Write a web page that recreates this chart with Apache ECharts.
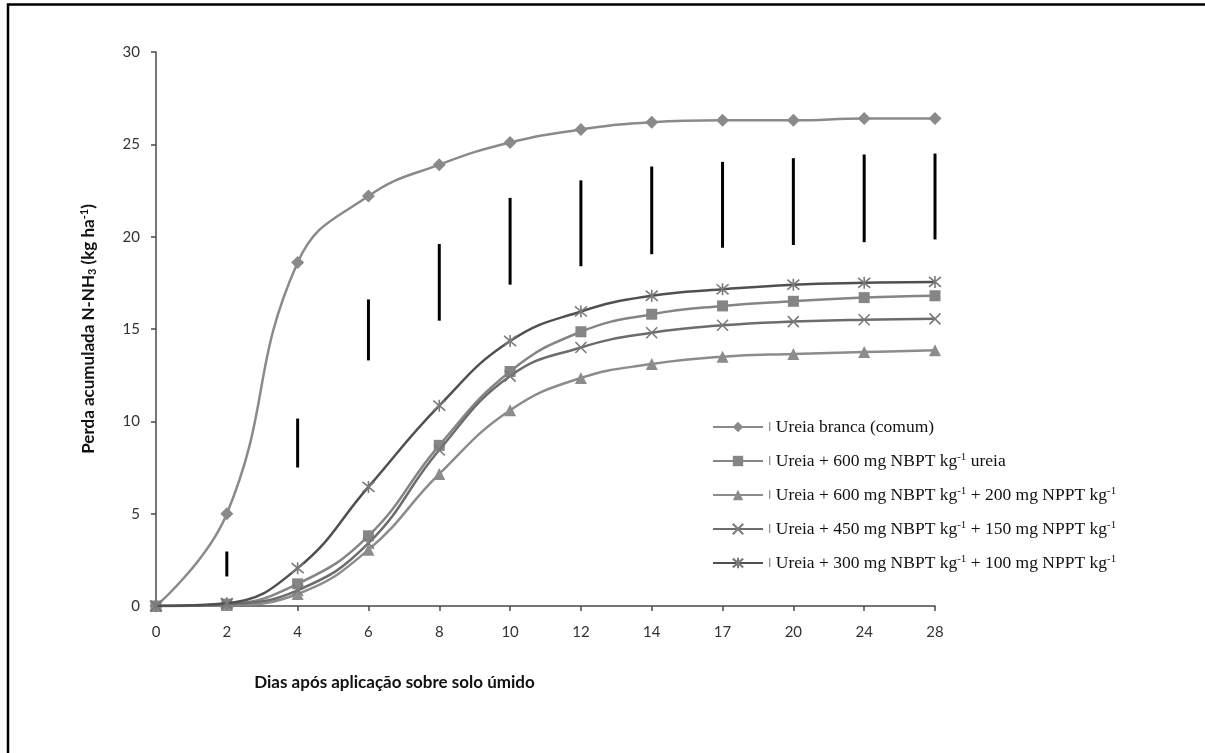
<!DOCTYPE html>
<html>
<head>
<meta charset="utf-8">
<script src="https://cdn.jsdelivr.net/npm/echarts@6/dist/echarts.min.js"></script>
<style>html,body{margin:0;padding:0;background:#fff}#c{width:1205px;height:753px}</style>
</head>
<body>
<div id="c"></div>
<script>
const days = ['0','2','4','6','8','10','12','14','17','20','24','28'];
const yTicks = [0,5,10,15,20,25,30];
const ureiaBranca = [0, 5.0, 18.6, 22.2, 23.9, 25.1, 25.8, 26.2, 26.3, 26.3, 26.4, 26.4];
const nbpt600 = [0, 0.1, 1.2, 3.8, 8.7, 12.7, 14.85, 15.8, 16.25, 16.5, 16.7, 16.8];
const nbpt600nppt200 = [0, 0.05, 0.65, 3.05, 7.15, 10.6, 12.35, 13.1, 13.5, 13.65, 13.75, 13.85];
const nbpt450nppt150 = [0, 0.1, 0.85, 3.4, 8.45, 12.45, 14.0, 14.8, 15.2, 15.4, 15.5, 15.55];
const nbpt300nppt100 = [0, 0.15, 2.05, 6.45, 10.85, 14.35, 15.95, 16.8, 17.15, 17.4, 17.5, 17.55];
// vertical bars (low, high) at each day except 0
const barLow  = [null, 1.6, 7.5, 13.3, 15.45, 17.4, 18.4, 19.05, 19.4, 19.55, 19.7, 19.85];
const barHigh = [null, 2.95, 10.15, 16.6, 19.6, 22.1, 23.05, 23.8, 24.05, 24.25, 24.45, 24.5];

const seriesNames = [
  'Ureia branca (comum)',
  'Ureia + 600 mg NBPT kg-1 ureia',
  'Ureia + 600 mg NBPT kg-1 + 200 mg NPPT kg-1',
  'Ureia + 450 mg NBPT kg-1 + 150 mg NPPT kg-1',
  'Ureia + 300 mg NBPT kg-1 + 100 mg NPPT kg-1'
];
const seriesData = [ureiaBranca, nbpt600, nbpt600nppt200, nbpt450nppt150, nbpt300nppt100];

const xPath = 'path://M0,0L10,10M10,0L0,10';
const starPath = 'path://M5,0L5,10M0.8,0.8L9.2,9.2M9.2,0.8L0.8,9.2';
const styles = [
  {symbol:'diamond', size:13, color:'#8a8a8a', line:'#8a8a8a', stroke:false},
  {symbol:'rect', size:11, color:'#858585', line:'#858585', stroke:false},
  {symbol:'triangle', size:12, color:'#8c8c8c', line:'#8c8c8c', stroke:false},
  {symbol:xPath, size:11, color:'#7a7a7a', line:'#6c6c6c', stroke:true},
  {symbol:starPath, size:12, color:'#7a7a7a', line:'#505050', stroke:true}
];

const chart = echarts.init(document.getElementById('c'), null, {renderer:'canvas'});

const lineSeries = seriesData.map((d, i) => {
  const s = styles[i];
  return {
    name: seriesNames[i],
    type: 'line',
    data: d,
    smooth: 0.45,
    symbol: s.symbol,
    symbolSize: s.size,
    lineStyle: {color: s.line, width: 2.5},
    itemStyle: s.stroke ? {color: 'rgba(0,0,0,0)', borderColor: s.color, borderWidth: 1.6}
                        : {color: s.color, borderColor: s.color, borderWidth: 0},
    z: 3 + i
  };
});

const barData = [];
for (let i = 0; i < days.length; i++) {
  if (barLow[i] != null) barData.push([i, barLow[i], barHigh[i]]);
}

function fmtName(n) {
  return '{bar|\u01C0} ' + n.replace(/kg-1/g, 'kg{sup|-1}').replace(/\}([^{]+)/g, '}{t|$1}').replace(/^([^{]+)/, '{t|$1}');
}

chart.setOption({
  backgroundColor: '#fff',
  animation: false,
  grid: {left: 156, top: 52, right: 270, bottom: 147, containLabel: false},
  xAxis: {
    type: 'category',
    data: days,
    boundaryGap: false,
    name: 'Dias após aplicação sobre solo úmido',
    nameLocation: 'middle',
    nameGap: 68,
    nameTextStyle: {fontFamily: 'Lato', fontWeight: 'bold', fontSize: 17, color: '#111', padding: [0, 302, 0, 0]},
    axisLine: {lineStyle: {color: '#4a4a4a', width: 1.5}},
    axisTick: {show: true, inside: false, length: 5, alignWithLabel: true, lineStyle: {color: '#4a4a4a', width: 1.5}},
    axisLabel: {fontFamily: 'Lato', fontSize: 15, color: '#333', margin: 19},
    splitLine: {show: false}
  },
  yAxis: {
    type: 'value',
    min: 0, max: 30, interval: 5,
    name: '{t|Perda acumulada N-NH}{sub|3}{t| (kg ha}{sup|-1}{t|)}',
    nameLocation: 'middle',
    nameGap: 58,
    nameRotate: 90,
    nameTextStyle: {
      fontFamily: 'Lato', fontWeight: 'bold', fontSize: 17, color: '#111',
      rich: {
        t: {fontFamily: 'Lato', fontWeight: 'bold', fontSize: 17, color: '#111'},
        sub: {fontFamily: 'Lato', fontWeight: 'bold', fontSize: 11, color: '#111', verticalAlign: 'bottom', padding:[8,0,0,0]},
        sup: {fontFamily: 'Lato', fontWeight: 'bold', fontSize: 11, color: '#111', verticalAlign: 'top', padding:[0,0,8,0]}
      }
    },
    axisLine: {show: true, lineStyle: {color: '#4a4a4a', width: 1.5}},
    axisTick: {show: true, inside: false, length: 5, lineStyle: {color: '#4a4a4a', width: 1.5}},
    axisLabel: {fontFamily: 'Lato', fontSize: 15, color: '#333', margin: 16,
      formatter: v => yTicks.indexOf(v) >= 0 ? String(v) : ''},
    splitLine: {show: false}
  },
  legend: {
    show: true,
    orient: 'vertical',
    left: 707,
    top: 413,
    itemGap: 16,
    itemWidth: 50,
    itemHeight: 13,
    data: seriesNames,
    formatter: fmtName,
    textStyle: {
      fontFamily: 'Liberation Serif', fontSize: 17.5, color: '#111',
      rich: {
        t: {fontFamily: 'Liberation Serif', fontSize: 17.5, color: '#111'},
        sup: {fontFamily: 'Liberation Serif', fontSize: 11, color: '#111', verticalAlign: 'top', padding:[0,0,7,0]},
        bar: {fontFamily: 'Liberation Sans', fontSize: 13, color: '#888'}
      }
    }
  },
  graphic: [{
    type: 'polyline',
    shape: {points: [[8, 760], [8, 4.5], [1210, 4.5]]},
    style: {fill: 'none', stroke: '#000', lineWidth: 2.5},
    silent: true
  }],
  series: lineSeries.concat([{
    name: 'bars',
    type: 'custom',
    data: barData,
    encode: {x: 0, y: [1, 2]},
    z: 2,
    renderItem: function (params, api) {
      const p1 = api.coord([api.value(0), api.value(1)]);
      const p2 = api.coord([api.value(0), api.value(2)]);
      return {type: 'line', shape: {x1: p1[0], y1: p1[1], x2: p2[0], y2: p2[1]},
              style: {stroke: '#000', lineWidth: 3}};
    }
  }])
});
</script>
</body>
</html>
